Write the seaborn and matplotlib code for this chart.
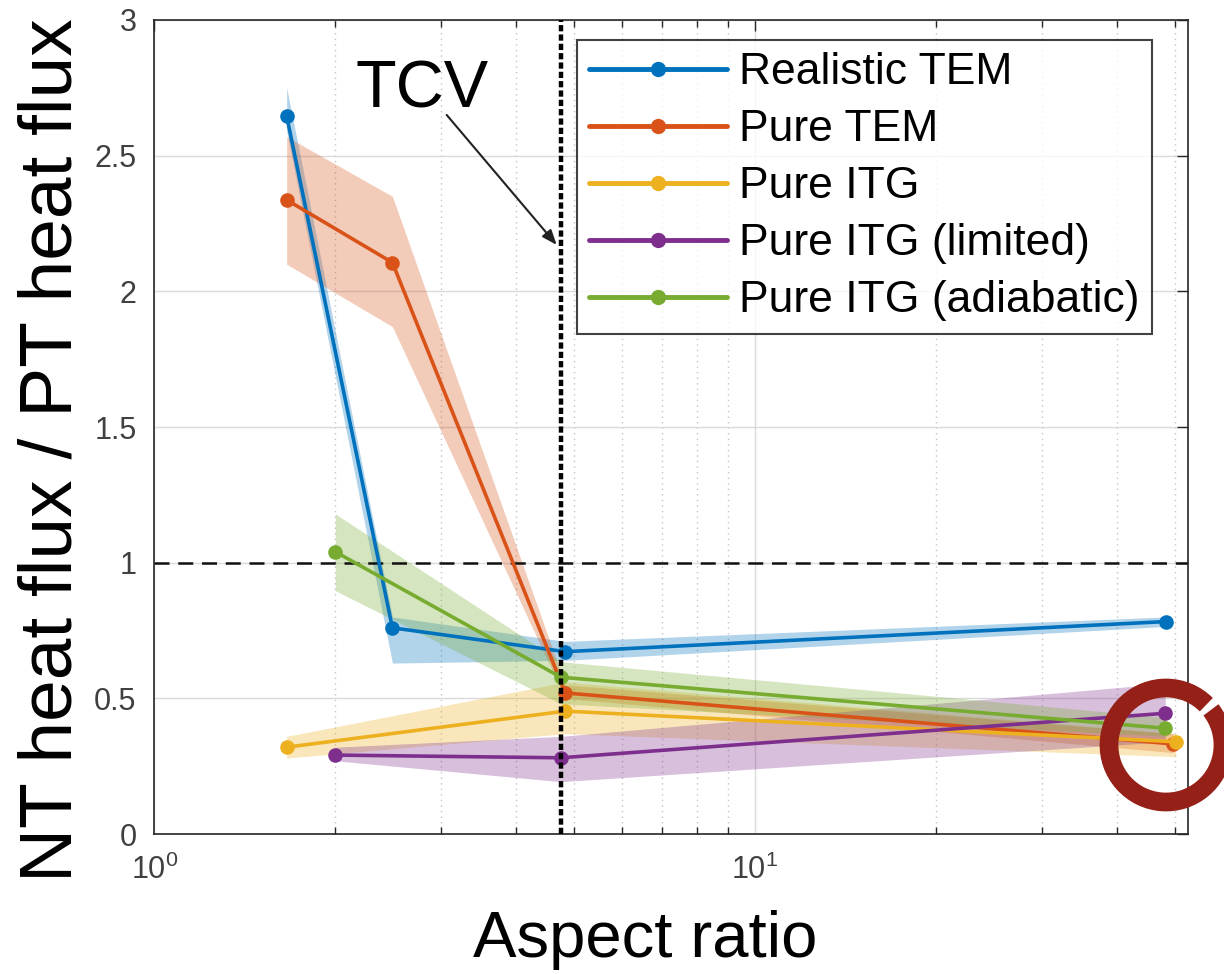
import numpy as np
import pandas as pd
import matplotlib
matplotlib.use("Agg")
import matplotlib.pyplot as plt
import seaborn as sns
from matplotlib.patches import Arc
from matplotlib.ticker import FixedLocator, NullFormatter

# ---------------- data ----------------
series = ["Realistic TEM", "Pure TEM", "Pure ITG", "Pure ITG (limited)", "Pure ITG (adiabatic)"]
colors = ["#0072BD", "#D95319", "#EDB120", "#7E2F8E", "#77AC30"]

rtem_x = [1.66, 2.49, 4.83, 48.3]
rtem_y = [2.646, 0.76, 0.672, 0.783]
rtem_lo = [2.59, 0.63, 0.64, 0.765]
rtem_hi = [2.75, 0.80, 0.71, 0.80]

ptem_x = [1.66, 2.49, 4.83, 49.7]
ptem_y = [2.337, 2.106, 0.52, 0.332]
ptem_lo = [2.10, 1.87, 0.50, 0.30]
ptem_hi = [2.57, 2.35, 0.55, 0.37]

pitg_x = [1.66, 4.83, 50.2]
pitg_y = [0.32, 0.453, 0.34]
pitg_lo = [0.28, 0.37, 0.285]
pitg_hi = [0.36, 0.56, 0.37]

plim_x = [2.0, 4.75, 48.2]
plim_y = [0.291, 0.281, 0.445]
plim_lo = [0.27, 0.193, 0.34]
plim_hi = [0.32, 0.36, 0.555]

padi_x = [2.0, 4.75, 48.2]
padi_y = [1.04, 0.578, 0.39]
padi_lo = [0.897, 0.48, 0.36]
padi_hi = [1.18, 0.635, 0.43]

tcv_x = 4.75
ref_y = 1.0
yticks = [0, 0.5, 1, 1.5, 2, 2.5, 3]
ytick_labels = ["0", "0.5", "1", "1.5", "2", "2.5", "3"]
xticks = [1, 10]
xtick_labels = [r"$\mathregular{10^0}$", r"$\mathregular{10^1}$"]

all_x = [rtem_x, ptem_x, pitg_x, plim_x, padi_x]
all_y = [rtem_y, ptem_y, pitg_y, plim_y, padi_y]
all_lo = [rtem_lo, ptem_lo, pitg_lo, plim_lo, padi_lo]
all_hi = [rtem_hi, ptem_hi, pitg_hi, plim_hi, padi_hi]

rows = []
for name, xs, ys in zip(series, all_x, all_y):
    for xv, yv in zip(xs, ys):
        rows.append({"series": name, "x": xv, "y": yv})
df = pd.DataFrame(rows)

# ---------------- style ----------------
sns.set_style("white")
plt.rcParams["font.family"] = ["Liberation Sans", "DejaVu Sans"]
plt.rcParams["mathtext.fontset"] = "custom"
plt.rcParams["mathtext.rm"] = "Liberation Sans"

fig = plt.figure(figsize=(12.24, 9.74), dpi=100)
ax = fig.add_axes([0.1262, 0.1437, 0.9706 - 0.1262, 0.9795 - 0.1437])
ax.set_xscale("log")
ax.set_xlim(1, 52.6)
ax.set_ylim(0, 3)

# grid
ax.yaxis.grid(True, which="major", color="#dadada", lw=1.0, zorder=0)
ax.xaxis.grid(True, which="major", color="#dadada", lw=1.0, zorder=0)
ax.xaxis.grid(True, which="minor", color="#c4c4c4", lw=1.0, ls=(0, (1, 3)), zorder=0)
ax.set_axisbelow(True)

# bands
for xs, lo, hi, c in zip(all_x, all_lo, all_hi, colors):
    ax.fill_between(xs, lo, hi, color=c, alpha=0.3, lw=0, zorder=1)

# reference lines
ax.axhline(ref_y, color="#111111", lw=1.8, ls=(0, (6, 3.5)), zorder=2)
ax.axvline(tcv_x, color="#000000", lw=3.2, ls=(0, (1.4, 0.7)), zorder=5)

# lines with markers
sns.lineplot(data=df, x="x", y="y", hue="series", hue_order=series, palette=colors,
             marker="o", markersize=10.5, markeredgewidth=0, lw=2.6, sort=True,
             estimator=None, ax=ax, zorder=4, legend=True)

# annotation
ax.text(2.79, 2.676, "TCV", fontsize=48, ha="center", va="baseline", color="black")
ax.annotate("", xy=(4.675, 2.171), xytext=(3.066, 2.65),
            arrowprops=dict(arrowstyle="-|>,head_length=0.9,head_width=0.35",
                            lw=1.5, color="#222222", shrinkA=0, shrinkB=0))

# ticks
ax.set_yticks(yticks)
ax.set_yticklabels(ytick_labels)
ax.set_xticks(xticks)
ax.set_xticklabels(xtick_labels)
ax.xaxis.set_minor_locator(FixedLocator([2, 3, 4, 5, 6, 7, 8, 9, 20, 30, 40, 50]))
ax.xaxis.set_minor_formatter(NullFormatter())
ax.tick_params(axis="both", which="major", direction="in", length=8, width=1,
               top=True, right=True, labelsize=22, labelcolor="#404040", color="#262626")
ax.tick_params(axis="x", which="major", pad=15)
ax.tick_params(axis="y", which="major", pad=13)
ax.tick_params(axis="x", which="minor", direction="in", length=5, width=1,
               top=True, bottom=True, color="#262626")
for s in ax.spines.values():
    s.set_color("#262626")
    s.set_linewidth(1.2)

ax.set_xlabel("Aspect ratio", fontsize=47, color="black")
ax.xaxis.set_label_coords(0.4746, -0.093)
ax.set_ylabel("NT heat flux / PT heat flux", fontsize=54, color="black")
ax.yaxis.set_label_coords(-0.066, 0.472)

# legend
handles, labels = ax.get_legend_handles_labels()
for h in handles:
    h.set_linewidth(3.5)
    h.set_markersize(11)
leg = ax.legend(handles, labels, loc="upper left", bbox_to_anchor=(0.4088, 0.9754),
                borderaxespad=0, fontsize=32, handlelength=3.1, handletextpad=0.27,
                labelspacing=0.36, borderpad=0.28, frameon=True, fancybox=False,
                labelcolor="black")
leg.get_frame().set_edgecolor("#111111")
leg.get_frame().set_linewidth(1.5)
leg.set_zorder(10)

# brush-circle mark
arc = Arc((11.66, 2.29), 1.14, 1.14, theta1=45, theta2=398,
          transform=fig.dpi_scale_trans, color="#952017", lw=13.5, zorder=20)
fig.add_artist(arc)

fig.savefig("out.png", dpi=100)
